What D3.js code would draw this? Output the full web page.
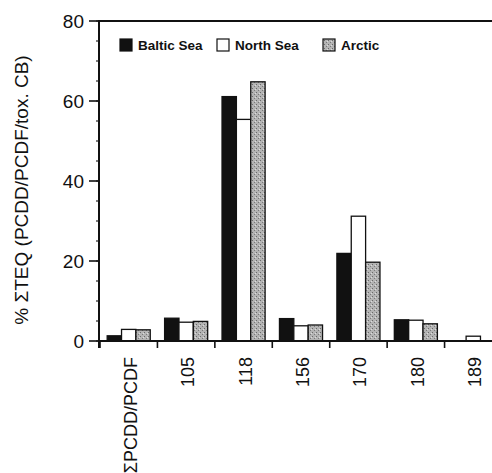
<!DOCTYPE html>
<html><head><meta charset="utf-8">
<script src="https://cdn.jsdelivr.net/npm/d3@7"></script>
<style>body{margin:0;background:#fff}svg{display:block}text{font-family:"Liberation Sans",Arial,sans-serif;fill:#111}</style>
</head><body>
<script>
const categories = ["ΣPCDD/PCDF","105","118","156","170","180","189"];
const series = ["Baltic Sea","North Sea","Arctic"];
const baltic = [1.3, 5.7, 61.1, 5.6, 21.9, 5.3, 0];
const northSea = [2.9, 4.7, 55.4, 3.8, 31.2, 5.2, 1.2];
const arctic = [2.8, 4.9, 64.8, 4.0, 19.7, 4.3, 0];
const yTicks = [0, 20, 40, 60, 80];
const yMinor = d3.range(0, 81, 5);

const W = 492, H = 473;
const svg = d3.select("body").append("svg").attr("width", W).attr("height", H);
const defs = svg.append("defs");
const pat = defs.append("pattern").attr("id","stip").attr("patternUnits","userSpaceOnUse").attr("width",4).attr("height",4);
pat.append("rect").attr("width",4).attr("height",4).attr("fill","#b4b4b4");
pat.append("rect").attr("x",0).attr("y",0).attr("width",1).attr("height",1).attr("fill","#6a6a6a");
pat.append("rect").attr("x",2).attr("y",2).attr("width",1).attr("height",1).attr("fill","#7a7a7a");
pat.append("rect").attr("x",3).attr("y",1).attr("width",1).attr("height",1).attr("fill","#dcdcdc");

const x0 = 100, y0 = 341;
const x = d3.scaleBand().domain(categories).range([x0, 502]).padding(0);
const x1 = d3.scaleBand().domain(series).range([0, x.bandwidth()]).paddingInner(0).paddingOuter(0.5);
const y = d3.scaleLinear().domain([0, 80]).range([y0, 21]);
const fills = {"Baltic Sea":"#111", "North Sea":"#fff", "Arctic":"url(#stip)"};
const vals = {"Baltic Sea":baltic, "North Sea":northSea, "Arctic":arctic};

// bars
const g = svg.append("g");
categories.forEach((c, i) => {
  series.forEach(s => {
    const v = vals[s][i];
    if (v <= 0) return;
    g.append("rect")
      .attr("x", x(c) + x1(s))
      .attr("y", y(v))
      .attr("width", x1.bandwidth())
      .attr("height", y(0) - y(v))
      .attr("fill", fills[s])
      .attr("stroke", "#111").attr("stroke-width", 1.3);
  });
});

// axes lines
svg.append("line").attr("x1", x0).attr("x2", W).attr("y1", y(80)).attr("y2", y(80)).attr("stroke","#111").attr("stroke-width",2);
svg.append("line").attr("x1", x0-1).attr("x2", W).attr("y1", y0).attr("y2", y0).attr("stroke","#111").attr("stroke-width",2);
svg.append("line").attr("x1", x0-1).attr("x2", x0-1).attr("y1", y(80)-1).attr("y2", y0+7).attr("stroke","#111").attr("stroke-width",2);

// y ticks
yMinor.forEach(t => {
  svg.append("line").attr("x1", x0-4).attr("x2", x0-1).attr("y1", y(t)).attr("y2", y(t)).attr("stroke","#222").attr("stroke-width",1.2);
});
yTicks.forEach(t => {
  svg.append("line").attr("x1", x0-11).attr("x2", x0-1).attr("y1", y(t)).attr("y2", y(t)).attr("stroke","#111").attr("stroke-width",1.6);
  svg.append("text").attr("x", 84).attr("y", y(t)).attr("dy","0.36em").attr("text-anchor","end")
    .attr("font-size", 19).text(t);
});

// x ticks at category boundaries
categories.forEach(c => {
  svg.append("line").attr("x1", x(c)).attr("x2", x(c)).attr("y1", y0).attr("y2", y0+7).attr("stroke","#111").attr("stroke-width",1.6);
  const cx = x(c) + x.bandwidth()/2;
  svg.append("text").attr("transform", `translate(${cx+8},357) rotate(-90)`)
    .attr("text-anchor","end").attr("font-size", 18).text(c);
});

// y title
svg.append("text").attr("transform", "translate(28,190) rotate(-90)")
  .attr("text-anchor","middle").attr("font-size", 19).text("% ΣTEQ (PCDD/PCDF/tox. CB)");

// legend
const legX = [120, 217, 323];
series.forEach((s, i) => {
  svg.append("rect").attr("x", legX[i]).attr("y", 39).attr("width", 12).attr("height", 12)
    .attr("fill", fills[s]).attr("stroke","#111").attr("stroke-width",1.2);
  svg.append("text").attr("x", legX[i] + 18).attr("y", 45).attr("dy","0.36em")
    .attr("font-size", 13.5).attr("font-weight","bold").text(s);
});
</script>
</body></html>
